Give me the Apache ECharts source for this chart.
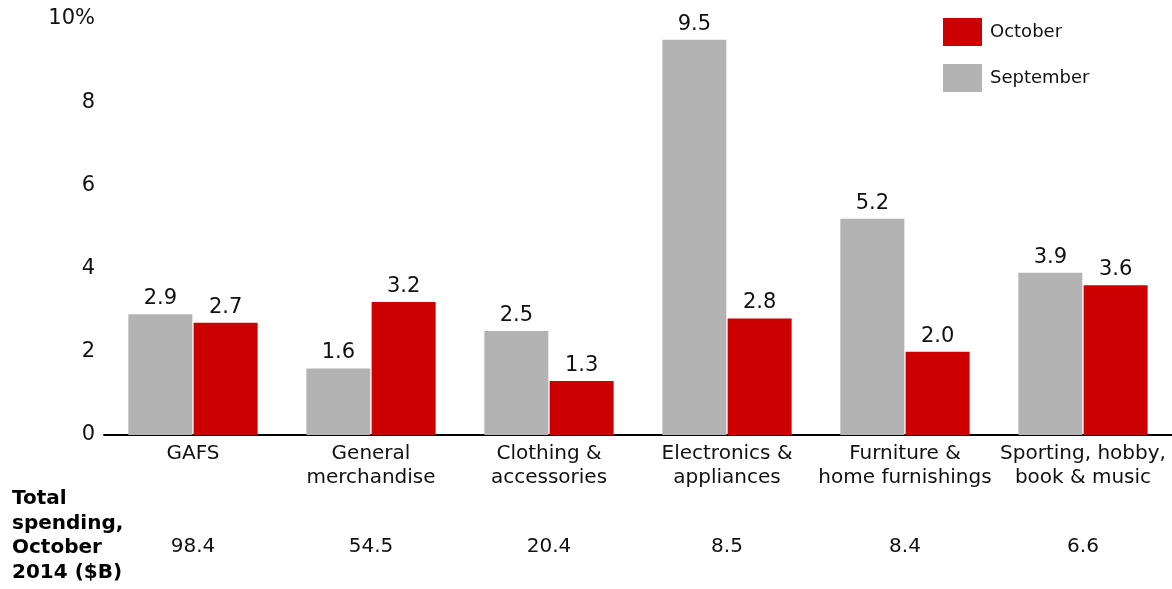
<!DOCTYPE html>
<html>
<head>
<meta charset="utf-8">
<script src="https://cdn.jsdelivr.net/npm/echarts@6/dist/echarts.min.js"></script>
<style>
  html, body { margin: 0; padding: 0; background: #fff; }
  #chart { width: 1172px; height: 589px; }
</style>
</head>
<body>
<div id="chart"></div>
<script>
// Retail categories and month-over-month growth (%)
const categories = [
  'GAFS',
  'General\nmerchandise',
  'Clothing &\naccessories',
  'Electronics &\nappliances',
  'Furniture &\nhome furnishings',
  'Sporting, hobby,\nbook & music'
];
const september = [2.9, 1.6, 2.5, 9.5, 5.2, 3.9];
const october = [2.7, 3.2, 1.3, 2.8, 2.0, 3.6];
// Total spending, October 2014 ($B)
const totals = ['98.4', '54.5', '20.4', '8.5', '8.4', '6.6'];
const yTicks = [0, 2, 4, 6, 8, 10];

const FONT = '"DejaVu Sans", Verdana, sans-serif';
const GRAY = '#b3b3b3';
const RED = '#cc0000';

const chart = echarts.init(document.getElementById('chart'), null, { renderer: 'canvas' });

const valueLabel = {
  show: true,
  position: 'top',
  distance: 5,
  color: '#111',
  fontFamily: FONT,
  fontSize: 21,
  formatter: p => p.value.toFixed(1)
};

chart.setOption({
  animation: false,
  textStyle: { fontFamily: FONT },
  grid: { left: 104, right: 0, top: 19, bottom: 154, containLabel: false },
  legend: {
    orient: 'vertical',
    left: 938,
    top: 13,
    icon: 'rect',
    itemWidth: 39,
    itemHeight: 28,
    itemGap: 18,
    data: ['October', 'September'],
    textStyle: { fontFamily: FONT, fontSize: 18, color: '#111', padding: [0, 0, 0, 3] },
    selectedMode: false
  },
  xAxis: [
    {
      type: 'category',
      data: categories,
      axisLine: { show: true, lineStyle: { color: '#000', width: 2 } },
      axisTick: { show: false },
      axisLabel: {
        color: '#111',
        fontFamily: FONT,
        fontSize: 20,
        lineHeight: 24,
        margin: 7,
        interval: 0
      }
    },
    {
      type: 'category',
      data: totals,
      position: 'bottom',
      offset: 96,
      axisLine: { show: false },
      axisTick: { show: false },
      axisLabel: { color: '#111', fontFamily: FONT, fontSize: 20, margin: 6, interval: 0 }
    }
  ],
  yAxis: {
    type: 'value',
    min: yTicks[0],
    max: yTicks[yTicks.length - 1],
    interval: 2,
    splitLine: { show: false },
    axisLine: { show: false },
    axisTick: { show: false },
    axisLabel: {
      color: '#111',
      fontFamily: FONT,
      fontSize: 21,
      margin: 9,
      padding: [5, 0, 0, 0],
      formatter: v => (v === 10 ? '10%' : String(v))
    }
  },
  series: [
    {
      name: 'September',
      type: 'bar',
      data: september,
      barWidth: 64,
      barGap: '2%',
      itemStyle: { color: GRAY },
      label: valueLabel
    },
    {
      name: 'October',
      type: 'bar',
      data: october,
      barWidth: 64,
      barGap: '2%',
      itemStyle: { color: RED },
      label: valueLabel
    }
  ],
  graphic: [
    {
      type: 'text',
      left: 12,
      top: 487,
      style: {
        text: 'Total\nspending,\nOctober\n2014 ($B)',
        font: 'bold 20px ' + FONT,
        lineHeight: 24.5,
        fill: '#000'
      }
    }
  ]
});
</script>
</body>
</html>
